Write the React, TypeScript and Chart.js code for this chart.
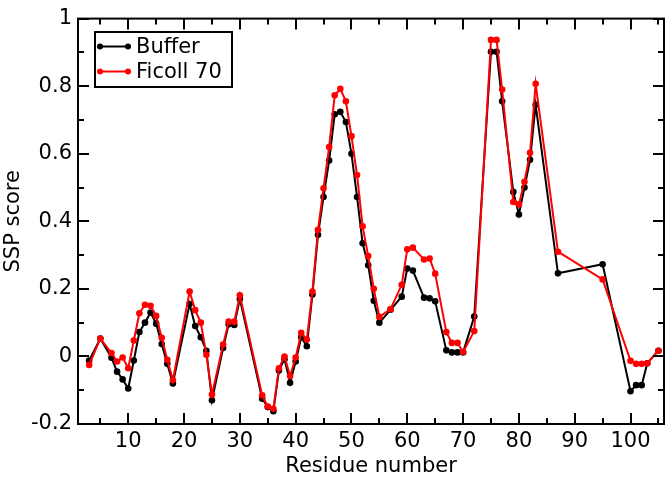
import React, { useEffect, useRef } from "react";
import { Chart, registerables } from "chart.js";

Chart.register(...registerables);

const residues = [3, 5, 7, 8, 9, 10, 11, 12, 13, 14, 15, 16, 17, 18, 21, 22, 23, 24, 25, 27, 28, 29, 30, 34, 35, 36, 37, 38, 39, 40, 41, 42, 43, 44, 45, 46, 47, 48, 49, 50, 51, 52, 53, 54, 55, 57, 59, 60, 61, 63, 64, 65, 67, 68, 69, 70, 72, 75, 76, 77, 79, 80, 81, 82, 83, 87, 95, 100, 101, 102, 103, 105];

const buffer = [-0.012, 0.053, -0.004, -0.045, -0.068, -0.095, -0.012, 0.072, 0.1, 0.13, 0.097, 0.037, -0.022, -0.08, 0.155, 0.09, 0.057, 0.017, -0.13, 0.025, 0.095, 0.093, 0.17, -0.125, -0.15, -0.162, -0.042, -0.008, -0.078, -0.015, 0.057, 0.03, 0.183, 0.36, 0.472, 0.58, 0.717, 0.724, 0.694, 0.6, 0.472, 0.335, 0.27, 0.165, 0.1, 0.138, 0.177, 0.26, 0.254, 0.174, 0.172, 0.163, 0.018, 0.012, 0.012, 0.012, 0.118, 0.902, 0.902, 0.755, 0.487, 0.42, 0.5, 0.582, 0.745, 0.246, 0.273, -0.103, -0.085, -0.085, -0.02, 0.017];

const ficoll = [-0.025, 0.053, 0.01, -0.015, -0.003, -0.035, 0.047, 0.128, 0.153, 0.15, 0.12, 0.055, -0.01, -0.07, 0.192, 0.137, 0.1, 0.005, -0.113, 0.035, 0.103, 0.103, 0.181, -0.115, -0.148, -0.155, -0.035, 0.0, -0.058, -0.003, 0.07, 0.05, 0.192, 0.375, 0.498, 0.62, 0.773, 0.792, 0.755, 0.652, 0.537, 0.385, 0.297, 0.2, 0.117, 0.14, 0.212, 0.317, 0.322, 0.287, 0.29, 0.245, 0.072, 0.04, 0.04, 0.013, 0.075, 0.937, 0.937, 0.79, 0.457, 0.45, 0.517, 0.603, 0.807, 0.31, 0.228, -0.013, -0.022, -0.022, -0.02, 0.017];

const seriesLabels = ["Buffer", "Ficoll 70"];
const seriesColors = ["#000000", "#ff0000"];

const xMajorTicks = [10, 20, 30, 40, 50, 60, 70, 80, 90, 100];
const xMinorTicks = [5, 15, 25, 35, 45, 55, 65, 75, 85, 95, 105];
const yMajorTicks = [-0.2, 0, 0.2, 0.4, 0.6, 0.8, 1];
const yTickLabels = ["-0.2", "0", "0.2", "0.4", "0.6", "0.8", "1"];
const yMinorTicks = [-0.1, 0.1, 0.3, 0.5, 0.7, 0.9];

const FONT = "'DejaVu Sans', 'Liberation Sans', Arial, sans-serif";
const FONT_SIZE = 21;

const framePlugin = {
  id: "frameTicksLegend",
  afterDraw(chart: any) {
    const { ctx, chartArea, scales } = chart;
    const { left, right, top, bottom } = chartArea;
    const xs = scales.x;
    const ys = scales.y;
    ctx.save();
    ctx.strokeStyle = "#000";
    ctx.lineWidth = 2;
    ctx.lineCap = "butt";
    ctx.strokeRect(left, top, right - left, bottom - top);
    const drawX = (vals: number[], len: number) => {
      vals.forEach((v) => {
        const p = Math.round(xs.getPixelForValue(v));
        ctx.beginPath();
        ctx.moveTo(p, bottom);
        ctx.lineTo(p, bottom - len);
        ctx.moveTo(p, top);
        ctx.lineTo(p, top + len);
        ctx.stroke();
      });
    };
    const drawY = (vals: number[], len: number) => {
      vals.forEach((v) => {
        const p = Math.round(ys.getPixelForValue(v));
        ctx.beginPath();
        ctx.moveTo(left, p);
        ctx.lineTo(left + len, p);
        ctx.moveTo(right, p);
        ctx.lineTo(right - len, p);
        ctx.stroke();
      });
    };
    drawX(xMajorTicks, 11);
    drawX(xMinorTicks, 6);
    drawY(yMajorTicks, 11);
    drawY(yMinorTicks, 6);

    // legend box
    const bx = 95, by = 32, bw = 137, bh = 55;
    ctx.fillStyle = "#fff";
    ctx.fillRect(bx, by, bw, bh);
    ctx.strokeRect(bx, by, bw, bh);
    chart.data.datasets.forEach((ds: any, i: number) => {
      const ly = 46.5 + i * 25;
      ctx.strokeStyle = ds.borderColor;
      ctx.fillStyle = ds.borderColor;
      ctx.lineWidth = 2;
      ctx.beginPath();
      ctx.moveTo(100, ly);
      ctx.lineTo(128, ly);
      ctx.stroke();
      [100, 128].forEach((cx) => {
        ctx.beginPath();
        ctx.arc(cx, ly, 3, 0, Math.PI * 2);
        ctx.fill();
      });
      ctx.fillStyle = "#000";
      ctx.font = FONT_SIZE + "px " + FONT;
      ctx.textBaseline = "middle";
      ctx.textAlign = "left";
      ctx.fillText(ds.label, 136, ly + 1);
    });
    ctx.restore();
  },
};

export default function App() {
  const canvasRef = useRef<HTMLCanvasElement | null>(null);

  useEffect(() => {
    const canvas = canvasRef.current;
    if (!canvas) return;
    const makeData = (vals: number[]) => residues.map((r, i) => ({ x: r, y: vals[i] }));
    const chart = new Chart(canvas, {
      type: "line",
      data: {
        datasets: [
          {
            label: seriesLabels[0],
            data: makeData(buffer),
            borderColor: seriesColors[0],
            backgroundColor: seriesColors[0],
            pointBackgroundColor: seriesColors[0],
            pointBorderColor: seriesColors[0],
            borderWidth: 2,
            pointRadius: 3.3,
            pointBorderWidth: 0,
            tension: 0,
            order: 1,
          },
          {
            label: seriesLabels[1],
            data: makeData(ficoll),
            borderColor: seriesColors[1],
            backgroundColor: seriesColors[1],
            pointBackgroundColor: seriesColors[1],
            pointBorderColor: seriesColors[1],
            borderWidth: 2,
            pointRadius: 3.3,
            pointBorderWidth: 0,
            tension: 0,
            order: 0,
          },
        ],
      },
      options: {
        animation: false,
        responsive: false,
        devicePixelRatio: 1,
        layout: { padding: { top: 14, right: 8, left: 0, bottom: 0 } },
        plugins: {
          legend: { display: false },
          tooltip: { enabled: false },
        },
        scales: {
          x: {
            type: "linear",
            min: 1,
            max: 106,
            grid: { display: false, drawTicks: false },
            border: { display: false },
            afterBuildTicks: (scale: any) => {
              scale.ticks = xMajorTicks.map((v) => ({ value: v }));
            },
            afterFit: (scale: any) => {
              scale.height = 56;
            },
            ticks: {
              color: "#000",
              font: { family: FONT, size: FONT_SIZE },
              padding: 5,
              maxRotation: 0,
              autoSkip: false,
              callback: (v: any) => String(v),
            },
            title: {
              display: true,
              text: "Residue number",
              color: "#000",
              font: { family: FONT, size: FONT_SIZE },
              padding: { top: 0, bottom: 1 },
            },
          },
          y: {
            type: "linear",
            min: -0.2,
            max: 1,
            grid: { display: false, drawTicks: false },
            border: { display: false },
            afterBuildTicks: (scale: any) => {
              scale.ticks = yMajorTicks.map((v) => ({ value: v }));
            },
            afterFit: (scale: any) => {
              scale.width = 78;
            },
            ticks: {
              color: "#000",
              font: { family: FONT, size: FONT_SIZE },
              padding: 6,
              autoSkip: false,
              callback: (v: any) => {
                const idx = yMajorTicks.findIndex((t) => Math.abs(t - Number(v)) < 1e-6);
                return idx >= 0 ? yTickLabels[idx] : "";
              },
            },
            title: {
              display: true,
              text: "SSP score",
              color: "#000",
              font: { family: FONT, size: FONT_SIZE },
              padding: { top: 1, bottom: 0 },
            },
          },
        },
      },
      plugins: [framePlugin],
    } as any);
    return () => chart.destroy();
  }, []);

  return (
    <div style={{ position: "absolute", left: 0, top: 0, width: 672, height: 480, background: "#fff" }}>
      <canvas ref={canvasRef} width={672} height={480} style={{ display: "block", width: 672, height: 480 }} />
    </div>
  );
}
